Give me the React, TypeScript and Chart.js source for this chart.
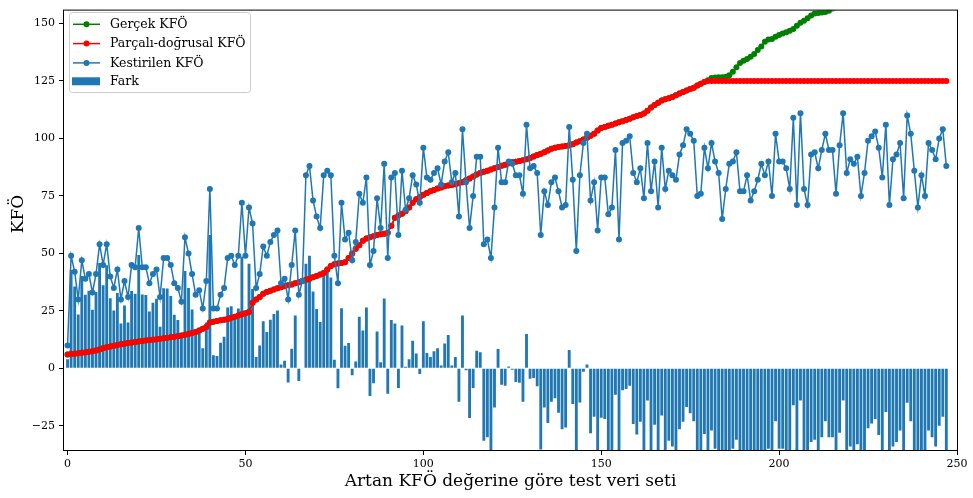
import React, { useEffect, useRef } from "react";
import { Chart, registerables } from "chart.js";

Chart.register(...registerables);

// Gerçek KFÖ (sorted, increasing) — beyond the top of the axes it is not visible
const gercek: number[] = [
  6.0, 6.2, 6.4, 6.6, 6.8, 7.0, 7.2, 7.5, 7.8, 8.2,
  8.8, 9.2, 9.5, 9.8, 10.2, 10.5, 10.7, 11.0, 11.3, 11.5,
  11.7, 11.9, 12.1, 12.3, 12.5, 12.7, 12.9, 13.1, 13.3, 13.5,
  13.7, 14.0, 14.3, 14.6, 15.0, 15.4, 15.8, 16.5, 17.2, 18.0,
  20.0, 20.3, 20.6, 20.9, 21.2, 21.5, 22.0, 22.5, 23.0, 23.5,
  24.0, 24.5, 28.5, 30.0, 31.0, 32.5, 33.2, 33.8, 34.3, 34.8,
  35.3, 35.7, 36.1, 36.5, 37.0, 37.5, 38.0, 38.5, 39.0, 39.6,
  40.2, 40.8, 41.5, 43.0, 44.5, 45.3, 45.6, 45.8, 46.2, 48.0,
  50.0, 52.0, 53.5, 55.5, 56.5, 57.0, 57.5, 58.0, 58.3, 58.6,
  59.0, 62.0, 65.5, 66.5, 67.3, 68.3, 70.0, 72.0, 73.5, 74.5,
  75.5, 76.3, 77.0, 77.6, 78.2, 78.7, 79.2, 79.5, 79.8, 80.1,
  80.5, 81.0, 81.8, 82.6, 83.5, 84.3, 85.0, 85.5, 86.0, 86.5,
  87.0, 87.6, 88.1, 88.6, 89.2, 89.6, 89.9, 90.2, 90.5, 91.0,
  91.5, 92.2, 92.8, 93.3, 94.0, 94.8, 95.5, 96.0, 96.3, 96.5,
  96.7, 97.0, 97.5, 98.2, 98.8, 99.5, 100.3, 101.2, 102.0, 103.5,
  104.5, 105.0, 105.5, 106.0, 106.5, 107.0, 107.5, 108.0, 108.6, 109.2,
  109.8, 110.2, 110.8, 112.0, 113.5, 114.5, 115.5, 116.5, 117.0, 117.5,
  118.0, 118.8, 119.5, 120.2, 120.8, 121.5, 122.0, 123.0, 123.8, 124.5,
  125.3, 126.3, 126.5, 126.6, 126.6, 126.8, 127.5, 129.0, 131.0, 132.8,
  133.8, 134.5, 135.5, 136.7, 138.5, 140.0, 142.0, 143.0, 143.3, 144.2,
  145.0, 145.6, 146.2, 146.8, 147.6, 149.0, 150.3, 151.2, 152.3, 153.5,
  154.3, 154.6, 154.8, 155.0, 155.5, 156.5, 157.5,
];

// Parçalı-doğrusal KFÖ (follows the real value, capped at 125)
const parcali: number[] = [
  6.0, 6.2, 6.4, 6.6, 6.8, 7.0, 7.2, 7.5, 7.8, 8.2,
  8.8, 9.2, 9.5, 9.8, 10.2, 10.5, 10.7, 11.0, 11.3, 11.5,
  11.7, 11.9, 12.1, 12.3, 12.5, 12.7, 12.9, 13.1, 13.3, 13.5,
  13.7, 14.0, 14.3, 14.6, 15.0, 15.4, 15.8, 16.5, 17.2, 18.0,
  20.0, 20.3, 20.6, 20.9, 21.2, 21.5, 22.0, 22.5, 23.0, 23.5,
  24.0, 24.5, 28.5, 30.0, 31.0, 32.5, 33.2, 33.8, 34.3, 34.8,
  35.3, 35.7, 36.1, 36.5, 37.0, 37.5, 38.0, 38.5, 39.0, 39.6,
  40.2, 40.8, 41.5, 43.0, 44.5, 45.3, 45.6, 45.8, 46.2, 48.0,
  50.0, 52.0, 53.5, 55.5, 56.5, 57.0, 57.5, 58.0, 58.3, 58.6,
  59.0, 62.0, 65.5, 66.5, 67.3, 68.3, 70.0, 72.0, 73.5, 74.5,
  75.5, 76.3, 77.0, 77.6, 78.2, 78.7, 79.2, 79.5, 79.8, 80.1,
  80.5, 81.0, 81.8, 82.6, 83.5, 84.3, 85.0, 85.5, 86.0, 86.5,
  87.0, 87.6, 88.1, 88.6, 89.2, 89.6, 89.9, 90.2, 90.5, 91.0,
  91.5, 92.2, 92.8, 93.3, 94.0, 94.8, 95.5, 96.0, 96.3, 96.5,
  96.7, 97.0, 97.5, 98.2, 98.8, 99.5, 100.3, 101.2, 102.0, 103.5,
  104.5, 105.0, 105.5, 106.0, 106.5, 107.0, 107.5, 108.0, 108.6, 109.2,
  109.8, 110.2, 110.8, 112.0, 113.5, 114.5, 115.5, 116.5, 117.0, 117.5,
  118.0, 118.8, 119.5, 120.2, 120.8, 121.5, 122.0, 123.0, 123.8, 124.5,
  125, 125, 125, 125, 125, 125, 125, 125, 125, 125,
  125, 125, 125, 125, 125, 125, 125, 125, 125, 125,
  125, 125, 125, 125, 125, 125, 125, 125, 125, 125,
  125, 125, 125, 125, 125, 125, 125, 125, 125, 125,
  125, 125, 125, 125, 125, 125, 125, 125, 125, 125,
  125, 125, 125, 125, 125, 125, 125, 125, 125, 125,
  125, 125, 125, 125, 125, 125, 125, 125,
];

// Kestirilen KFÖ
const kestirilen: number[] = [
  10, 49, 42, 30, 47, 39, 41, 33, 41, 54,
  45, 54, 40, 35, 43, 30, 38, 31, 45, 44,
  61, 44, 44, 37, 41, 43, 31, 48, 48, 45,
  37, 35, 29, 57, 50, 41, 32, 34, 26, 38,
  78, 26, 26, 32, 35, 48, 49, 45, 49, 72,
  49, 70, 63, 35, 41, 53, 49, 55, 58, 60,
  37, 39, 30, 45, 60, 32, 38, 84, 88, 73,
  66, 61, 84, 86, 84, 49, 37, 72, 56, 59,
  47, 55, 76, 72, 83, 45, 51, 74, 61, 89,
  48, 83, 85, 58, 86, 69, 74, 84, 80, 72,
  96, 83, 82, 85, 87, 80, 90, 94, 81, 85,
  66, 104, 81, 61, 75, 92, 92, 54, 56, 48,
  70, 96, 81, 81, 90, 89, 84, 84, 76, 106,
  87, 88, 85, 58, 77, 71, 81, 83, 77, 70,
  71, 105, 82, 51, 84, 98, 102, 73, 81, 60,
  83, 83, 67, 70, 95, 56, 98, 99, 101, 85,
  81, 87, 74, 98, 77, 90, 70, 96, 78, 86,
  84, 82, 93, 97, 104, 102, 99, 75, 76, 96,
  87, 98, 90, 85, 65, 78, 89, 90, 94, 77,
  77, 84, 73, 77, 82, 89, 84, 90, 75, 102,
  90, 90, 87, 78, 109, 71, 111, 78, 71, 93,
  94, 87, 95, 102, 95, 95, 76, 97, 111, 85,
  91, 89, 92, 75, 85, 99, 101, 103, 96, 83,
  106, 71, 91, 93, 98, 74, 110, 102, 86, 70,
  84, 75, 98, 95, 91, 100, 104, 88,
];

// Fark = Kestirilen − Parçalı-doğrusal
const fark: number[] = kestirilen.map((v, i) => +(v - parcali[i]).toFixed(1));

const xTicks = [0, 50, 100, 150, 200, 250];
const yTicks = [-25, 0, 25, 50, 75, 100, 125, 150];

const xBaslik = "Artan KFÖ değerine göre test veri seti";
const yBaslik = "KFÖ";
const seriAdlari = ["Gerçek KFÖ", "Parçalı-doğrusal KFÖ", "Kestirilen KFÖ", "Fark"];

const BLUE = "#1f77b4";
const RED = "#ff0000";
const GREEN = "#008000";
const SERIF = "'DejaVu Serif', serif";

const pts = (arr: number[]) => arr.map((v, i) => ({ x: i, y: v }));

const decorPlugin = {
  id: "mplDecor",
  afterDraw(chart: any) {
    const ctx = chart.ctx as CanvasRenderingContext2D;
    const a = chart.chartArea;
    ctx.save();
    // frame (spines)
    ctx.strokeStyle = "#000";
    ctx.lineWidth = 1;
    ctx.strokeRect(a.left - 0.5, a.top - 0.5, a.right - a.left + 1, a.bottom - a.top + 1);

    // axis titles
    ctx.fillStyle = "#000";
    ctx.font = `17px ${SERIF}`;
    ctx.textAlign = "center";
    ctx.textBaseline = "middle";
    ctx.fillText(xBaslik, (a.left + a.right) / 2, 482);
    ctx.save();
    ctx.translate(18.5, 214);
    ctx.rotate(-Math.PI / 2);
    ctx.fillText(yBaslik, 0, 0);
    ctx.restore();

    // legend
    const bx = 69.5, by = 12.5, bw = 181, bh = 80, r = 3;
    ctx.beginPath();
    ctx.moveTo(bx + r, by);
    ctx.lineTo(bx + bw - r, by);
    ctx.arcTo(bx + bw, by, bx + bw, by + r, r);
    ctx.lineTo(bx + bw, by + bh - r);
    ctx.arcTo(bx + bw, by + bh, bx + bw - r, by + bh, r);
    ctx.lineTo(bx + r, by + bh);
    ctx.arcTo(bx, by + bh, bx, by + bh - r, r);
    ctx.lineTo(bx, by + r);
    ctx.arcTo(bx, by, bx + r, by, r);
    ctx.closePath();
    ctx.fillStyle = "rgba(255,255,255,0.8)";
    ctx.fill();
    ctx.strokeStyle = "#cccccc";
    ctx.lineWidth = 1;
    ctx.stroke();

    const rows = [24.3, 43.6, 62.9, 81.3];
    const cols = [GREEN, RED, BLUE];
    ctx.font = `12.5px ${SERIF}`;
    ctx.textAlign = "left";
    ctx.textBaseline = "middle";
    for (let k = 0; k < 4; k++) {
      const y = rows[k];
      if (k < 3) {
        ctx.strokeStyle = cols[k];
        ctx.lineWidth = 1.5;
        ctx.beginPath();
        ctx.moveTo(73, y);
        ctx.lineTo(100, y);
        ctx.stroke();
        ctx.fillStyle = cols[k];
        ctx.beginPath();
        ctx.arc(86.5, y, 3, 0, Math.PI * 2);
        ctx.fill();
      } else {
        ctx.fillStyle = BLUE;
        ctx.fillRect(72, y - 4, 28, 8);
      }
      ctx.fillStyle = "#000";
      ctx.fillText(seriAdlari[k], 110, y + 0.5);
    }
    ctx.restore();
  },
};

export default function App() {
  const ref = useRef<HTMLCanvasElement | null>(null);

  useEffect(() => {
    if (!ref.current) return;
    const lineDs = (label: string, data: number[], color: string, order: number) => ({
      type: "line" as const,
      label,
      data: pts(data),
      borderColor: color,
      backgroundColor: color,
      borderWidth: 1.5,
      pointRadius: 3,
      pointBorderWidth: 0,
      pointBackgroundColor: color,
      pointHoverRadius: 3,
      tension: 0,
      clip: 0,
      order,
    });

    const chart = new Chart(ref.current, {
      type: "bar",
      data: {
        datasets: [
          lineDs(seriAdlari[0], gercek, GREEN, 3),
          lineDs(seriAdlari[1], parcali, RED, 2),
          lineDs(seriAdlari[2], kestirilen, BLUE, 1),
          {
            type: "bar" as const,
            label: seriAdlari[3],
            data: pts(fark),
            backgroundColor: BLUE,
            borderWidth: 0,
            barPercentage: 0.8,
            categoryPercentage: 1,
            clip: 0,
            order: 4,
          },
        ],
      } as any,
      options: {
        responsive: false,
        maintainAspectRatio: false,
        animation: false,
        devicePixelRatio: 1,
        layout: { padding: { top: 6, right: 16, left: 0, bottom: 0 } },
        plugins: {
          legend: { display: false },
          tooltip: { enabled: false },
        },
        scales: {
          x: {
            type: "linear",
            min: -1,
            max: 250,
            offset: false,
            grid: { offset: false, drawOnChartArea: false, drawTicks: true, tickLength: 5, tickColor: "#000", tickWidth: 1 },
            border: { display: false },
            afterBuildTicks: (s: any) => {
              s.ticks = xTicks.map((v) => ({ value: v }));
            },
            afterFit: (s: any) => {
              s.height = 48;
            },
            ticks: {
              color: "#000",
              font: { family: SERIF, size: 11 },
              padding: 3,
              maxRotation: 0,
              autoSkip: false,
              callback: (v: any) => String(v),
            },
          },
          y: {
            type: "linear",
            min: -35.5,
            max: 155.6,
            grid: { offset: false, drawOnChartArea: false, drawTicks: true, tickLength: 5, tickColor: "#000", tickWidth: 1 },
            border: { display: false },
            afterBuildTicks: (s: any) => {
              s.ticks = yTicks.map((v) => ({ value: v }));
            },
            afterFit: (s: any) => {
              s.width = 64;
            },
            ticks: {
              color: "#000",
              font: { family: SERIF, size: 11 },
              padding: 4,
              autoSkip: false,
              callback: (v: any) => String(v).replace("-", "\u2212"),
            },
          },
        },
      } as any,
      plugins: [decorPlugin],
    });
    return () => chart.destroy();
  }, []);

  return (
    <div style={{ position: "absolute", left: 0, top: 0, width: 973, height: 498, background: "#fff" }}>
      <canvas ref={ref} width={973} height={498} style={{ display: "block", width: 973, height: 498 }} />
    </div>
  );
}
